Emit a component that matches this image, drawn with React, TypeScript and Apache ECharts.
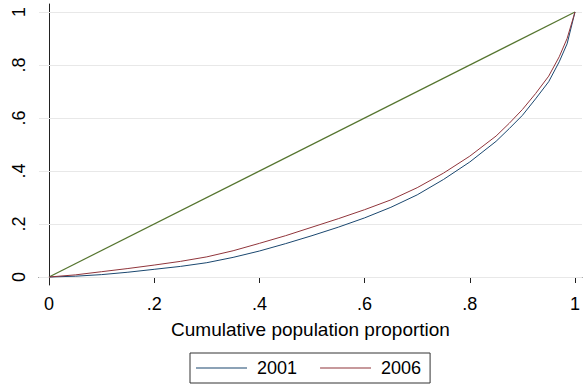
import React, { useEffect, useRef } from "react";
import * as echarts from "echarts";

const popShare = [0, 0.05, 0.1, 0.15, 0.2, 0.25, 0.3, 0.35, 0.4, 0.45, 0.5, 0.55, 0.6, 0.65, 0.7, 0.75, 0.8, 0.85, 0.875, 0.9, 0.925, 0.95, 0.97, 0.985, 1];
const lorenz2001 = [0, 0.003, 0.009, 0.018, 0.029, 0.04, 0.054, 0.074, 0.098, 0.126, 0.156, 0.188, 0.223, 0.263, 0.31, 0.368, 0.434, 0.512, 0.56, 0.61, 0.672, 0.737, 0.812, 0.88, 1];
const lorenz2006 = [0, 0.008, 0.02, 0.032, 0.045, 0.059, 0.076, 0.099, 0.127, 0.156, 0.188, 0.22, 0.254, 0.291, 0.337, 0.392, 0.456, 0.532, 0.58, 0.632, 0.692, 0.758, 0.831, 0.9, 1];
const equalityX = [0, 1];
const equalityY = [0, 1];
const tickValues = [0, 0.2, 0.4, 0.6, 0.8, 1];
const tickLabels = ["0", ".2", ".4", ".6", ".8", "1"];

const FONT = "Liberation Sans, Arial, sans-serif";

export default function App() {
  const ref = useRef<HTMLDivElement>(null);
  useEffect(() => {
    if (!ref.current) return;
    const chart = echarts.init(ref.current, undefined, { renderer: "svg" });
    const fmt = (v: number) => {
      const i = tickValues.findIndex((t) => Math.abs(t - v) < 1e-6);
      return i >= 0 ? tickLabels[i] : "";
    };
    const axisCommon = {
      type: "value" as const,
      axisLine: { show: true, lineStyle: { color: "#222", width: 1 } },
      axisTick: { show: true, length: 6, customValues: tickValues, lineStyle: { color: "#222", width: 1 } },
      splitLine: { show: false },
    };
    chart.setOption({
      animation: false,
      backgroundColor: "#fff",
      textStyle: { fontFamily: FONT },
      grid: { left: 39, right: 0, top: 4, bottom: 101, containLabel: false },
      xAxis: {
        ...axisCommon,
        min: -10 / 527,
        max: 534 / 527,
        axisLabel: { customValues: tickValues, formatter: fmt, fontSize: 18, color: "#000", margin: 10, fontFamily: FONT },
        name: "Cumulative population proportion",
        nameLocation: "middle",
        nameGap: 35,
        nameTextStyle: { fontSize: 19, color: "#000", fontFamily: FONT },
      },
      yAxis: {
        ...axisCommon,
        min: -8 / 265,
        max: 273 / 265,
        axisLabel: { customValues: tickValues, formatter: fmt, fontSize: 18, color: "#000", margin: 11, rotate: 90, fontFamily: FONT },
      },
      legend: {
        data: ["2001", "2006"],
        left: 190,
        top: 353,
        orient: "horizontal",
        icon: "rect",
        borderColor: "#333",
        borderWidth: 1,
        borderRadius: 0,
        padding: [6, 9, 6, 6],
        itemWidth: 51,
        itemHeight: 1,
        itemGap: 23,
        textStyle: { fontSize: 18, color: "#000", fontFamily: FONT, padding: [0, 5, 0, 5] },
      },
      series: [
        {
          name: "equality",
          type: "line",
          data: equalityX.map((x, i) => [x, equalityY[i]]),
          symbol: "none",
          lineStyle: { color: "#55752f", width: 1.2 },
          itemStyle: { color: "#55752f" },
          z: 3,
          markLine: {
            silent: true,
            symbol: ["none", "none"],
            label: { show: false },
            lineStyle: { color: "#e8e8e8", width: 1, type: "solid" },
            data: tickValues.map((v) => ({ yAxis: v })),
            z: 1,
          },
        },
        {
          name: "2001",
          type: "line",
          data: popShare.map((x, i) => [x, lorenz2001[i]]),
          symbol: "none",
          lineStyle: { color: "#1a476f", width: 1 },
          itemStyle: { color: "#1a476f" },
          z: 4,
        },
        {
          name: "2006",
          type: "line",
          data: popShare.map((x, i) => [x, lorenz2006[i]]),
          symbol: "none",
          lineStyle: { color: "#90353b", width: 1 },
          itemStyle: { color: "#90353b" },
          z: 4,
        },
      ],
    });
    return () => chart.dispose();
  }, []);
  return <div ref={ref} style={{ width: 583, height: 386, position: "absolute", left: 0, top: 0 }} />;
}
